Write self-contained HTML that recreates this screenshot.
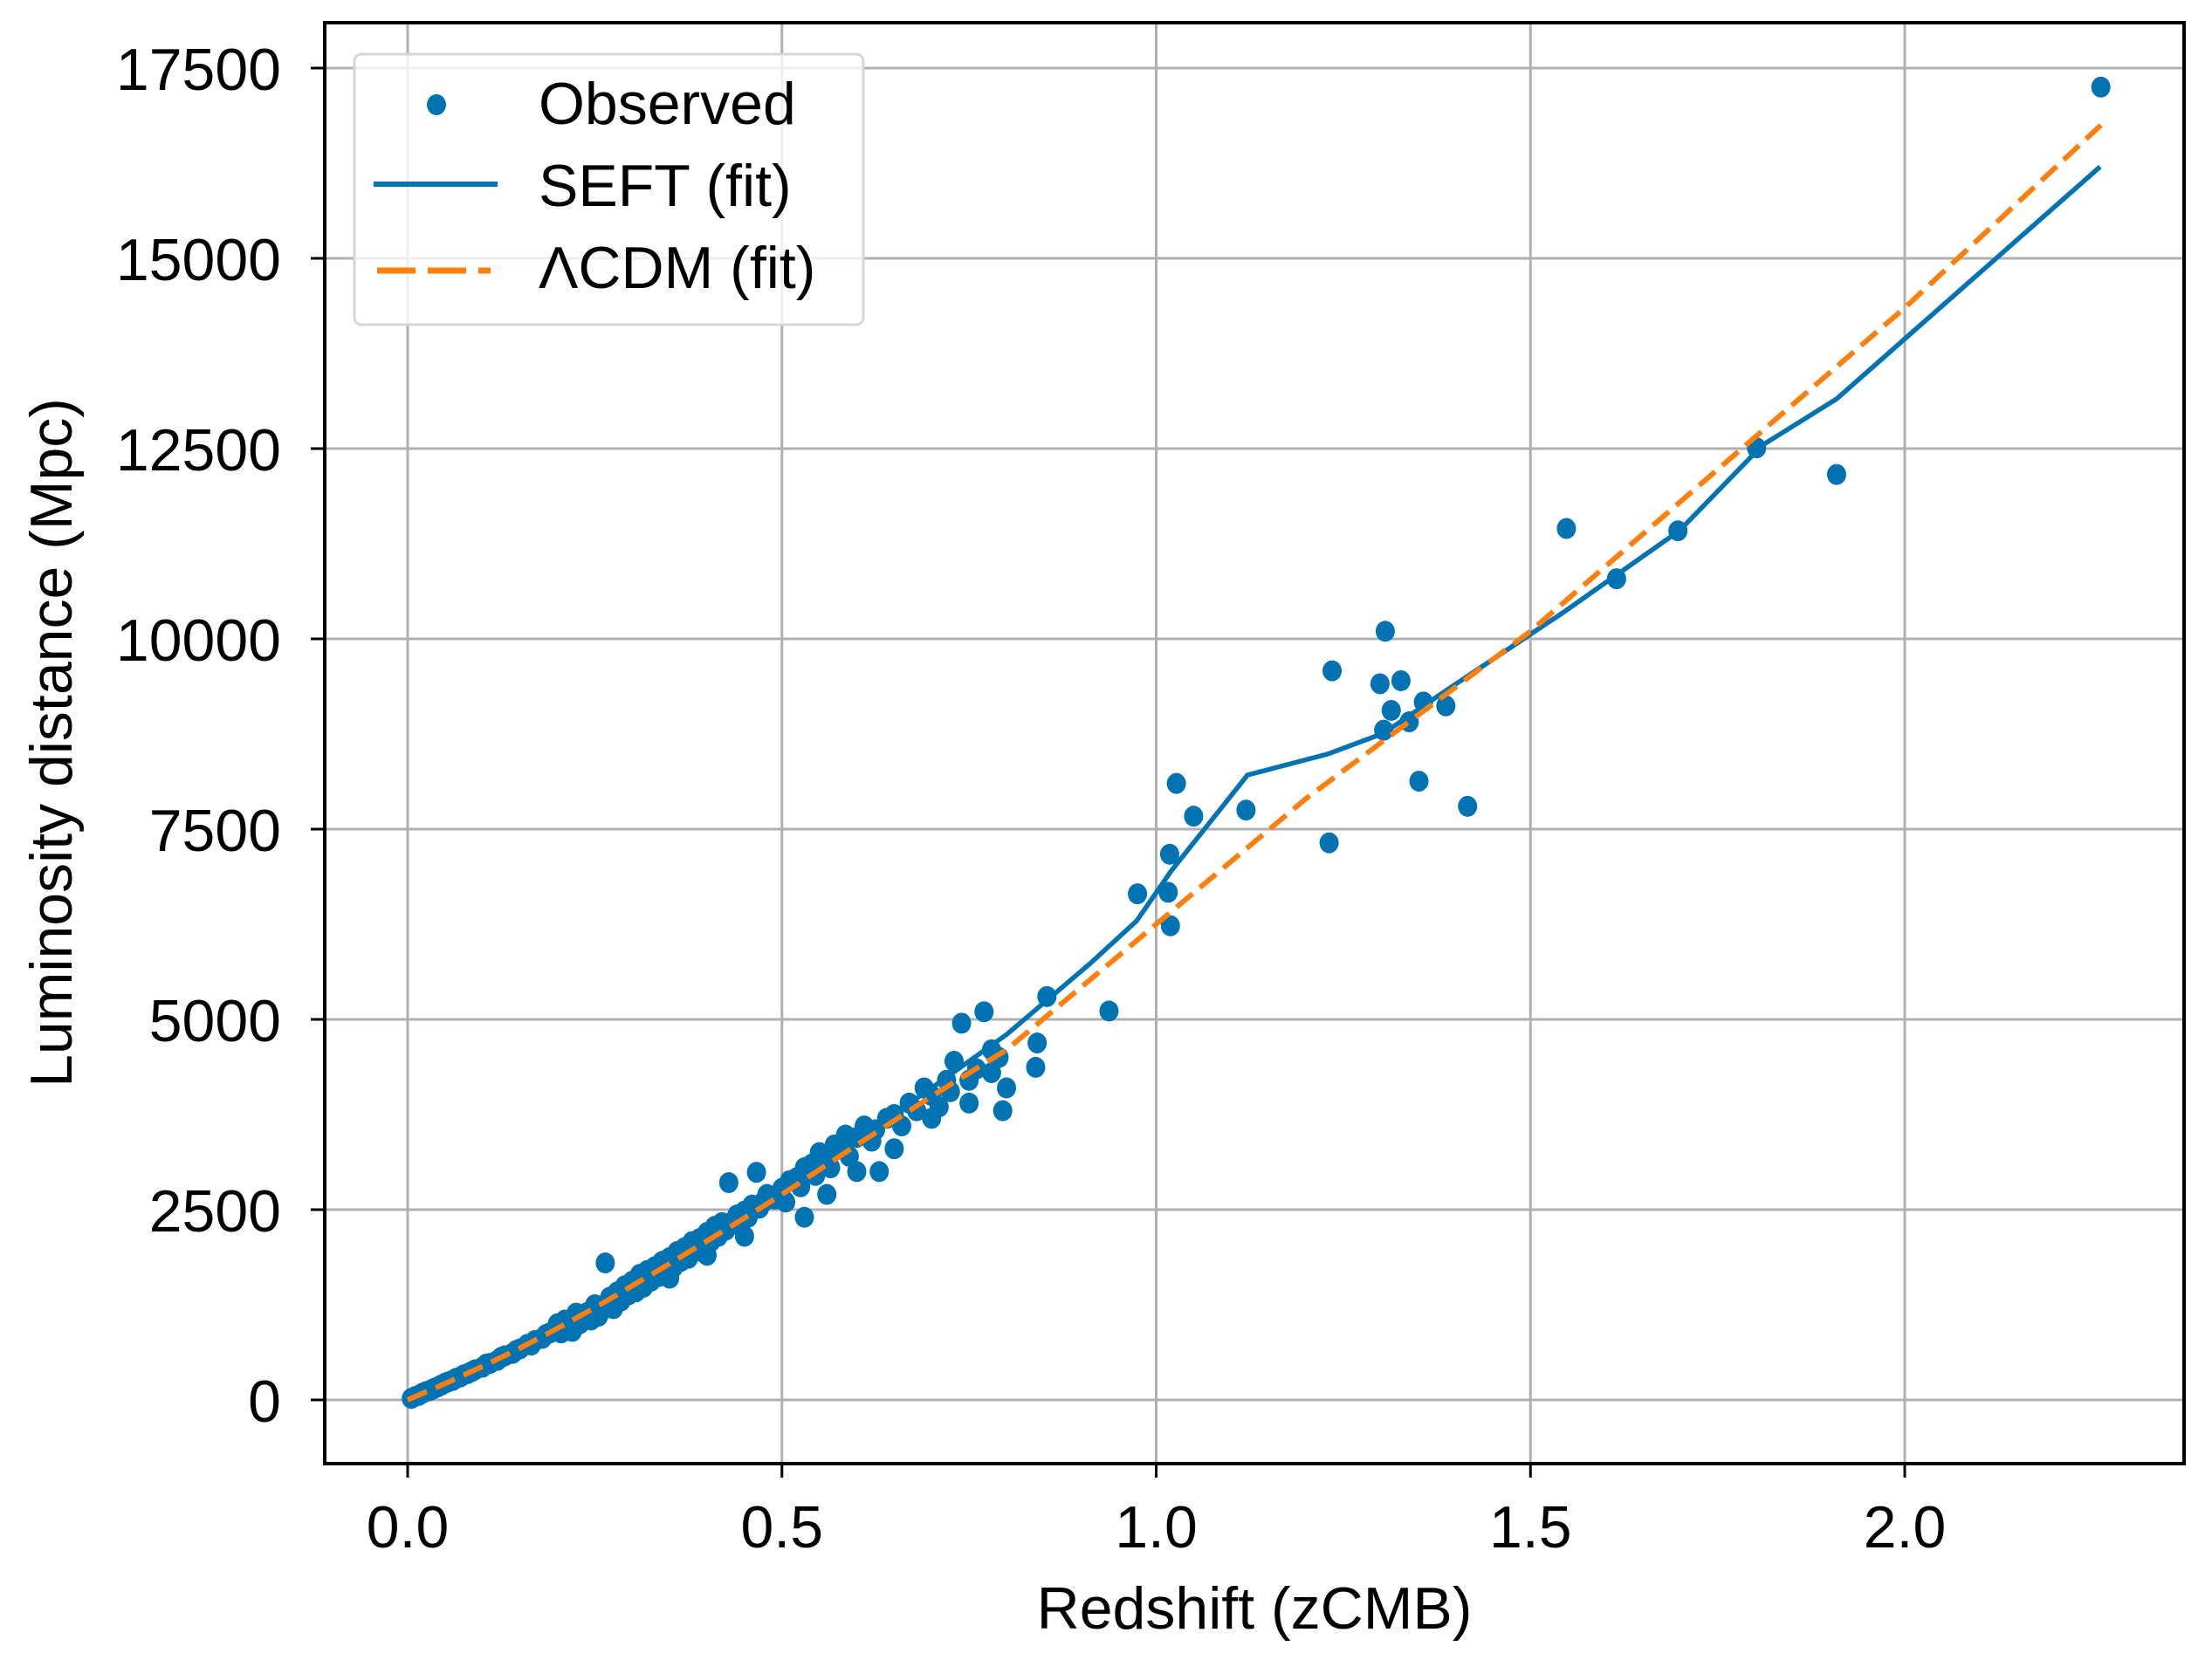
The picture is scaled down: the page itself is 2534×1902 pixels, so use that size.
<!DOCTYPE html>
<html><head><meta charset="utf-8"><style>
html,body{margin:0;padding:0;background:#fff;}
svg text{font-family:"Liberation Sans",Arial,sans-serif;fill:#000;}
</style></head><body>
<svg id="chart" width="2534" height="1897" viewBox="0 0 2534 1897" xmlns="http://www.w3.org/2000/svg">
<rect x="0" y="0" width="2534" height="1897" fill="#fff"/>
<g id="grid"></g>
<g id="plot"></g>
<g id="axes"></g>
<g id="legend"></g>
</svg>
<script>
const xTicks = [0.0, 0.5, 1.0, 1.5, 2.0];
const xTickLabels = ["0.0", "0.5", "1.0", "1.5", "2.0"];
const yTicks = [0, 2500, 5000, 7500, 10000, 12500, 15000, 17500];
const yTickLabels = ["0", "2500", "5000", "7500", "10000", "12500", "15000", "17500"];

const obsZ = [
0.005,0.01,0.015,0.02,0.025,0.03,0.035,0.04,0.045,0.05,
0.055,0.06,0.065,0.07,0.075,0.08,0.085,0.09,0.1,0.105,
0.11,0.12,0.125,0.13,0.14,0.145,0.15,0.16,0.165,0.17,
0.18,0.185,0.19,0.2,0.2,0.205,0.21,0.215,0.22,0.225,
0.23,0.235,0.24,0.245,0.25,0.255,0.26,0.264,0.27,0.275,
0.28,0.285,0.29,0.295,0.3,0.305,0.31,0.315,0.32,0.325,
0.33,0.335,0.34,0.345,0.35,0.355,0.36,0.365,0.37,0.375,
0.38,0.385,0.39,0.395,0.4,0.405,0.41,0.415,0.42,0.425,
0.429,0.435,0.44,0.445,0.45,0.455,0.46,0.466,0.47,0.475,
0.48,0.49,0.5,0.505,0.51,0.52,0.525,0.53,0.54,0.545,
0.55,0.56,0.565,0.57,0.58,0.585,0.59,0.6,0.61,0.62,
0.625,0.63,0.64,0.65,0.66,0.67,0.68,0.69,0.7,0.71,
0.72,0.725,0.73,0.74,0.75,0.76,0.77,0.78,0.79,0.8,
0.35,0.4,0.45,0.53,0.56,0.6,0.65,0.7,0.75,0.78,
0.795,0.839,0.841,0.854,0.937,0.975,1.016,1.018,1.019,1.027,
1.05,1.12,1.231,1.235,1.299,1.304,1.306,1.314,1.327,1.338,
1.351,1.357,1.387,1.416,1.548,1.615,1.697,1.802,1.909,2.262];
const obsD = [
20,45,60,90,110,125,150,170,195,220,
240,255,285,300,330,345,370,395,430,470,
480,520,560,580,610,650,670,730,720,780,
810,860,880,930,1000,880,1050,960,900,1140,
1000,1080,1150,1050,1250,1100,1180,1800,1350,1200,
1420,1300,1500,1380,1560,1420,1650,1480,1700,1560,
1750,1620,1820,1690,1870,1740,1950,1820,2000,1860,
2080,1950,2120,2000,2200,2080,2280,2150,2330,2230,
2855,2350,2430,2280,2480,2400,2560,2990,2520,2600,
2700,2640,2780,2600,2880,2920,2800,3050,3100,2950,
3250,3180,3050,3350,3300,3480,3200,3450,3600,3400,
3550,3000,3700,3750,3600,3900,3800,4100,4000,3850,
4200,4050,4450,4950,4200,4350,5100,4600,4500,4100,
1600,1900,2150,2400,2700,3000,3300,3700,3900,4300,
3800,4370,4690,5300,5110,6650,6670,7170,6230,8100,
7670,7750,7320,9580,9410,8800,10100,9060,9450,8910,
8130,9170,9120,7800,11450,10790,11420,12510,12160,17250];

const seftZ = [0.0,0.1,0.2,0.3,0.4,0.5,0.6,0.7,0.8,0.913,0.974,1.02,1.122,1.229,1.304,1.391,1.545,1.699,1.81,1.909,2.261];
const seftD = [0,440,950,1520,2130,2760,3420,4100,4800,5745,6296,6950,8211,8486,8761,9346,10355,11422,12546,13153,16204];
const lcdmZ = [0.0,0.05,0.1,0.15,0.2,0.25,0.3,0.35,0.4,0.45,0.5,0.6,0.7,0.8,1.0,1.2,1.5,1.8,2.0,2.262];
const lcdmD = [0,215,440,680,940,1210,1500,1790,2090,2390,2700,3350,3990,4600,6250,7900,10100,12650,14350,16750];

const NS = "http://www.w3.org/2000/svg";
const L = 372, R = 2502, T = 26, B = 1677;
const xs = z => 467 + z * 857.5;
const ys = d => 1604 - d / 2500 * 218;
function mk(tag, attrs, parent) {
  const e = document.createElementNS(NS, tag);
  for (const k in attrs) e.setAttribute(k, attrs[k]);
  parent.appendChild(e);
  return e;
}
const grid = document.getElementById('grid');
const plot = document.getElementById('plot');
const axes = document.getElementById('axes');
const legend = document.getElementById('legend');

xTicks.forEach((v, i) => {
  const g = mk('line', {x1: xs(v), x2: xs(v), y1: T, y2: B, stroke: '#b0b0b0', 'stroke-width': 3}, grid);
  
  
  const t = mk('line', {x1: xs(v), x2: xs(v), y1: B, y2: B + 16, stroke: '#000', 'stroke-width': 3}, axes);
  
  
  const tx = mk('text', {x: xs(v), y: 1773, 'font-size': 68, 'text-anchor': 'middle'}, axes);
  tx.textContent = xTickLabels[i];
  
  
});
yTicks.forEach((v, i) => {
  const g = mk('line', {x1: L, x2: R, y1: ys(v), y2: ys(v), stroke: '#b0b0b0', 'stroke-width': 3}, grid);
  
  
  const t = mk('line', {x1: L - 16, x2: L, y1: ys(v), y2: ys(v), stroke: '#000', 'stroke-width': 3}, axes);
  
  
  const tx = mk('text', {x: 322, y: ys(v) + 25, 'font-size': 68, 'text-anchor': 'end'}, axes);
  tx.textContent = yTickLabels[i];
  
  
});

obsZ.forEach((z, i) => {
  const c = mk('ellipse', {cx: xs(z), cy: ys(obsD[i]), rx: 11, ry: 12, fill: '#0173b2'}, plot);
  
  
});
const seft = mk('polyline', {points: seftZ.map((z, i) => xs(z) + ',' + ys(seftD[i])).join(' '), fill: 'none', stroke: '#0173b2', 'stroke-width': 5.5, 'stroke-linejoin': 'round'}, plot);


const lcdm = mk('polyline', {points: lcdmZ.map((z, i) => xs(z) + ',' + ys(lcdmD[i])).join(' '), fill: 'none', stroke: '#ff7f0e', 'stroke-width': 6, 'stroke-dasharray': '24 11'}, plot);



const frame = mk('rect', {x: L, y: T, width: R - L, height: B - T, fill: 'none', stroke: '#000', 'stroke-width': 4}, axes);


const xl = mk('text', {x: 1437, y: 1866, 'font-size': 68, 'text-anchor': 'middle'}, axes);
xl.textContent = 'Redshift (zCMB)';


const yl = mk('text', {x: 0, y: 0, 'font-size': 68, 'text-anchor': 'middle', transform: 'translate(82,851) rotate(-90)'}, axes);
yl.textContent = 'Luminosity distance (Mpc)';



const lb = mk('rect', {x: 406, y: 62, width: 583, height: 310, rx: 8, fill: 'rgba(255,255,255,0.8)', stroke: '#d6d6d6', 'stroke-width': 3}, legend);


const lm = mk('ellipse', {cx: 500, cy: 120, rx: 11, ry: 12, fill: '#0173b2'}, legend);


const ls = mk('line', {x1: 428, x2: 570, y1: 211, y2: 211, stroke: '#0173b2', 'stroke-width': 6}, legend);


const ld = mk('line', {x1: 432, x2: 562, y1: 310, y2: 310, stroke: '#ff7f0e', 'stroke-width': 7, 'stroke-dasharray': '44 14'}, legend);


[['Observed', 142, 'legend-observed-label'], ['SEFT (fit)', 236, 'legend-seft-label'], ['\u039BCDM (fit)', 330, 'legend-lcdm-label']].forEach(a => {
  const t = mk('text', {x: 617, y: a[1], 'font-size': 68}, legend);
  t.textContent = a[0];
  
  
});
</script>
</body></html>
